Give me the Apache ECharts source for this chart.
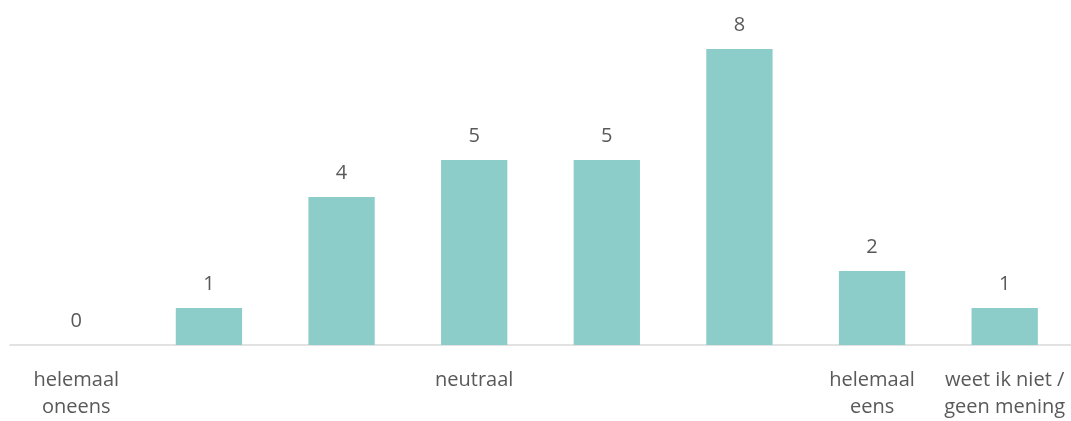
<!DOCTYPE html>
<html><head><meta charset="utf-8">
<script src="https://cdn.jsdelivr.net/npm/echarts@6/dist/echarts.min.js"></script>
<style>html,body{margin:0;padding:0;background:#fff}#c{width:1071px;height:421px}</style>
</head><body><div id="c"></div>
<script>
const categories = ["helemaal\noneens", "", "", "neutraal", "", "", "helemaal\neens", "weet ik niet /\ngeen mening"];
const values = [0, 1, 4, 5, 5, 8, 2, 1];
const chart = echarts.init(document.getElementById('c'), null, {renderer: 'canvas'});
const font = '"Open Sans", Lato, sans-serif';
chart.setOption({
  animation: false,
  grid: {left: 10, right: 0, top: 49, bottom: 71, containLabel: false},
  xAxis: {
    type: 'category', data: categories,
    axisLine: {lineStyle: {color: '#d9d9d9', width: 1.5}},
    axisTick: {show: false},
    axisLabel: {interval: 0, color: '#595959', fontSize: 20, fontFamily: font, margin: 22, lineHeight: 27}
  },
  yAxis: {type: 'value', min: 0, max: 8, show: false, splitLine: {show: false}},
  series: [{
    type: 'bar', data: values, barWidth: '50%',
    itemStyle: {color: '#8ccdca'},
    label: {show: true, position: 'top', distance: 14, color: '#595959', fontSize: 20, fontFamily: font}
  }]
});
</script></body></html>
